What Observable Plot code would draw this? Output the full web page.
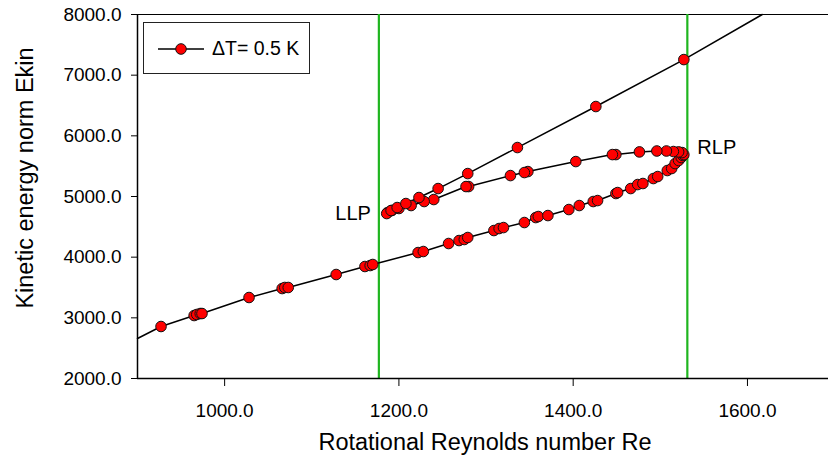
<!DOCTYPE html>
<html><head><meta charset="utf-8">
<script src="https://cdn.jsdelivr.net/npm/d3@7"></script>
<script src="https://cdn.jsdelivr.net/npm/@observablehq/plot@0.6"></script>
<style>
body{margin:0;background:#fff}
#chart{position:relative;width:828px;height:462px;font-family:'Liberation Sans',Arial,sans-serif}
#legend{position:absolute;left:143px;top:22px;width:165px;height:50px;border:1.2px solid #222;background:#fff;box-sizing:content-box}
#legend svg{position:absolute;left:0;top:0}
#legend span{position:absolute;left:68px;top:13px;font-size:19.5px;line-height:24px;color:#000;white-space:nowrap}
</style>
</head><body><div id="chart"></div>
<script>
// Lower (stable) branch, increasing Re up to the right limit point
const lowerRe = [927,965,968,972,974,1028,1066,1069,1073,1128,1161,1167,1170,1222,1228,1257,1269,1275,1279,1309,1315,1320,1344,1357,1360,1371,1395,1407,1423,1428,1449,1451,1466,1474,1480,1492,1497,1508,1513,1517,1521,1524,1526];
const lowerE  = [2857,3038,3055,3071,3071,3335,3483,3500,3500,3714,3846,3862,3879,4076,4093,4225,4274,4291,4324,4439,4472,4488,4571,4653,4670,4686,4785,4851,4917,4933,5049,5065,5131,5197,5214,5296,5329,5428,5461,5543,5593,5642,5675];
// Middle (unstable) branch, from RLP back to LLP
const middleRe = [1527,1525,1521,1515,1507,1496,1476,1449,1445,1403,1348,1344,1328,1280,1277,1240,1229,1214,1200,1192,1187,1186];
const middleE  = [5690,5724,5735,5741,5750,5750,5735,5691,5691,5576,5411,5395,5345,5164,5164,4950,4917,4851,4802,4769,4736,4719];
// Upper branch, from LLP upward
const upperRe = [1191,1198,1208,1223,1245,1279,1336,1426,1527];
const upperE  = [4769,4818,4884,4983,5131,5378,5807,6483,7257];
// Fitted curve extends beyond the measured points
const curveStartRe = 900,  curveStartE = 2660;
const curveEndRe   = 1617, curveEndE   = 8000;

const foldRe = [1177, 1531];
const foldLabels = ["LLP", "RLP"];
const foldLabelE = [4720, 5810];

const xTicks = [1000, 1200, 1400, 1600];
const yTicks = [2000, 3000, 4000, 5000, 6000, 7000, 8000];
const xDomain = [900, 1693];
const yDomain = [2000, 8000];
const seriesLabel = "ΔT= 0.5 K";
const xTitle = "Rotational Reynolds number Re";
const yTitle = "Kinetic energy norm Ekin";

const toPts = (xs, ys) => xs.map((re, i) => ({re, e: ys[i]}));
const lower = toPts(lowerRe, lowerE);
const middle = toPts(middleRe, middleE);
const upper = toPts(upperRe, upperE);
const points = [...lower, ...middle, ...upper];
const curve = [{re: curveStartRe, e: curveStartE}, ...points, {re: curveEndRe, e: curveEndE}];
const folds = foldRe.map((re, i) => ({re, e: foldLabelE[i], label: foldLabels[i]}));
const fmt = d3.format(".1f");

const plot = Plot.plot({
  width: 828, height: 462,
  marginLeft: 137, marginRight: 0, marginTop: 14, marginBottom: 84,
  style: {fontFamily: "'Liberation Sans', Arial, sans-serif", fontSize: "19px", color: "#000", background: "#fff"},
  x: {domain: xDomain},
  y: {domain: yDomain},
  marks: [
    Plot.ruleY([yDomain[1]], {stroke: "#000", strokeWidth: 1.2}),
    Plot.ruleX(foldRe, {stroke: "#1fb51f", strokeWidth: 2.2}),
    Plot.line(curve, {x: "re", y: "e", stroke: "#000", strokeWidth: 1.5}),
    Plot.dot(points, {x: "re", y: "e", r: 5.3, fill: "#ff0000", stroke: "#111", strokeWidth: 1}),
    Plot.text(folds.filter(d => d.label === "LLP"), {x: "re", y: "e", text: "label", textAnchor: "end", dx: -8, fontSize: 20}),
    Plot.text(folds.filter(d => d.label === "RLP"), {x: "re", y: "e", text: "label", textAnchor: "start", dx: 10, fontSize: 20}),
    Plot.axisX({ticks: xTicks, tickFormat: fmt, tickSize: 8, tickPadding: 17, label: null, stroke: "#000"}),
    Plot.axisY({ticks: yTicks, tickFormat: fmt, tickSize: 6, tickPadding: 10, label: null, stroke: "#000"}),
    Plot.ruleY([yDomain[0]], {stroke: "#000", strokeWidth: 1.5}),
    Plot.ruleX([xDomain[0]], {stroke: "#000", strokeWidth: 1.5})
  ]
});

const svg = d3.select(plot);
svg.append("text").attr("x", 485).attr("y", 442).attr("text-anchor", "middle")
  .attr("dominant-baseline", "central").style("font-size", "23.5px").attr("fill", "#000").text(xTitle);
svg.append("text").attr("transform", "translate(25,178) rotate(-90)").attr("text-anchor", "middle")
  .attr("dominant-baseline", "central").style("font-size", "23.5px").attr("fill", "#000").text(yTitle);

const chart = document.getElementById("chart");
chart.appendChild(plot);

// Legend overlay
const legend = document.createElement("div");
legend.id = "legend";
legend.innerHTML = `<svg width="70" height="50"><line x1="14" x2="60" y1="26" y2="26" stroke="#000" stroke-width="1.5"/><circle cx="37" cy="26" r="5.3" fill="#ff0000" stroke="#111" stroke-width="1"/></svg><span></span>`;
legend.querySelector("span").textContent = seriesLabel;
chart.appendChild(legend);
</script>
</body></html>
